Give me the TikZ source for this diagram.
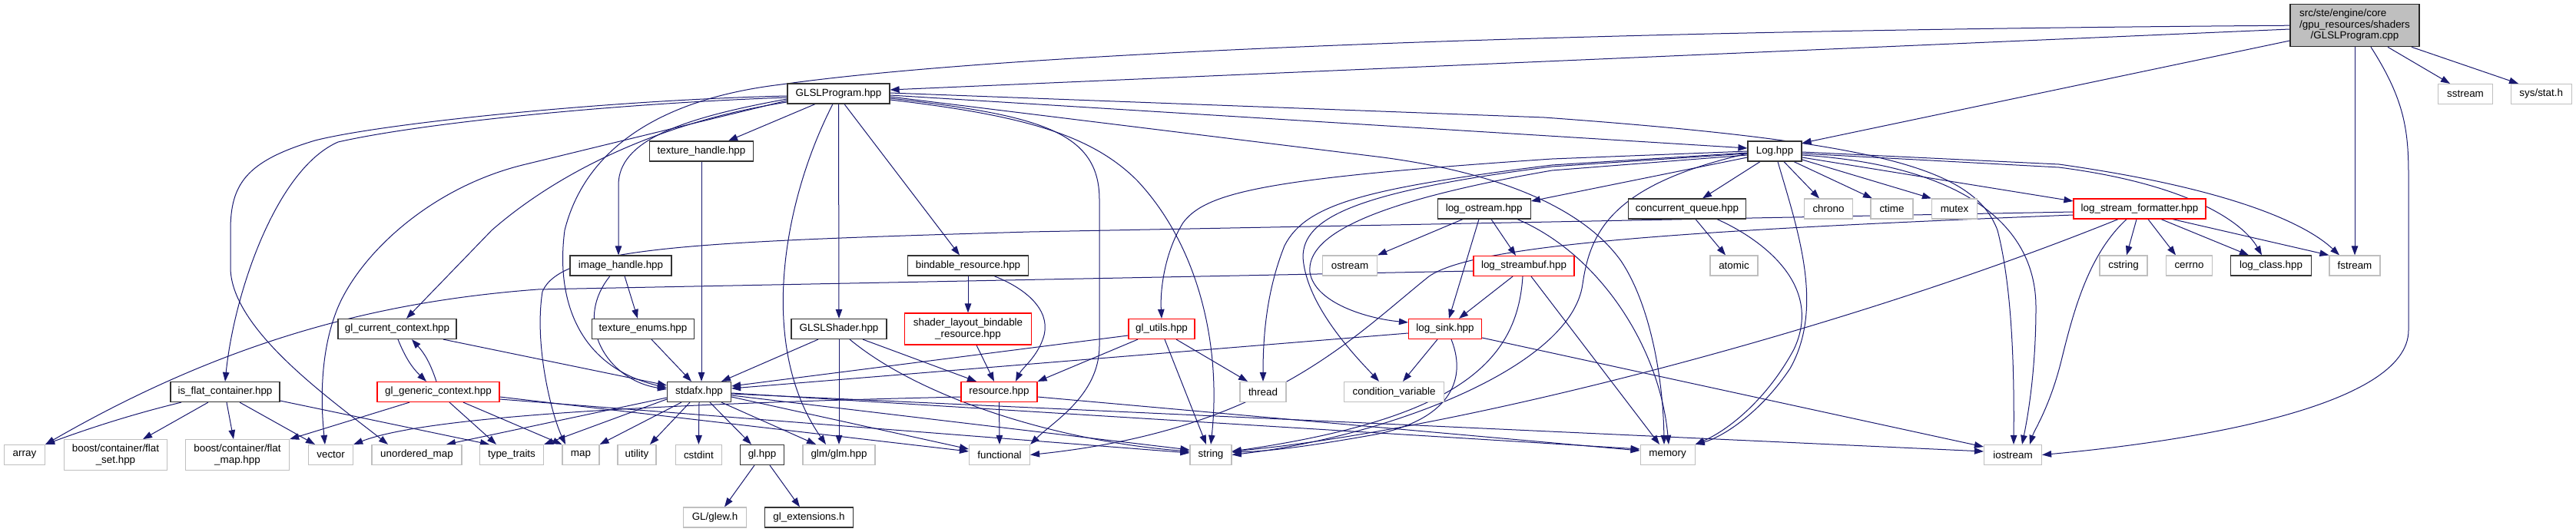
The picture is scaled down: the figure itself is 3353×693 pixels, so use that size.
\documentclass[tikz,border=0pt]{standalone}
\usepackage{fontspec}
\setmainfont{Liberation Sans}
\usetikzlibrary{arrows.meta,backgrounds}
\definecolor{edgec}{HTML}{191970}
\definecolor{leafc}{HTML}{BFBFBF}
\definecolor{rootf}{HTML}{BFBFBF}
\tikzset{
  base/.style={draw, line width=1.2pt, fill=white, inner sep=0pt, minimum height=26pt,
    font=\fontsize{13.4}{14.5}\selectfont, text=black, align=center},
  blk/.style={base, draw=black!80},
  trunc/.style={base, draw=red},
  leaf/.style={base, draw=leafc},
  rootbox/.style={base, draw=black!85, fill=rootf},
  dep/.style={draw=edgec, line width=1pt, -{Triangle[length=12pt,width=8.5pt]}},
}
\begin{document}
\begin{tikzpicture}[x=1pt,y=-1pt]
\useasboundingbox (0,0) rectangle (3353,693);
% ---------------- nodes ----------------
\node[rootbox, minimum width=168pt, minimum height=55pt] (root) at (3065,33.2)
  {\begin{tabular}{@{}l@{}}src/ste/engine/core\\/gpu\_resources/shaders\\\multicolumn{1}{@{}c@{}}{/GLSLProgram.cpp}\end{tabular}};
\node[leaf, minimum width=71pt] (sstream) at (3209,122.5) {sstream};
\node[leaf, minimum width=79pt] (sysstat) at (3307.7,122.5) {sys/stat.h};
\node[blk, minimum width=133pt] (glslp) at (1091.5,122) {GLSLProgram.hpp};
\node[blk, minimum width=135pt] (texh) at (913,197) {texture\_handle.hpp};
\node[blk, minimum width=132pt] (imgh) at (808,346) {image\_handle.hpp};
\node[blk, minimum width=157pt] (bindr) at (1260,346) {bindable\_resource.hpp};
\node[blk, minimum width=70pt] (Log) at (2310,197) {Log.hpp};
\node[blk, minimum width=153pt] (cq) at (2196,272) {concurrent\_queue.hpp};
\node[leaf, minimum width=63pt] (chrono) at (2380,272) {chrono};
\node[leaf, minimum width=55pt] (ctime) at (2462.5,272) {ctime};
\node[leaf, minimum width=59pt] (mutex) at (2544,272) {mutex};
\node[leaf, minimum width=62pt] (atomic) at (2257,346) {atomic};
\node[blk, minimum width=121pt] (logost) at (1931.7,272) {log\_ostream.hpp};
\node[leaf, minimum width=71pt] (ostream) at (1757,346) {ostream};
\node[trunc, minimum width=131pt] (lsbuf) at (1983.5,346.5) {log\_streambuf.hpp};
\node[trunc, minimum width=172pt] (lsf) at (2785,272) {log\_stream\_formatter.hpp};
\node[leaf, minimum width=62pt] (cstring) at (2764,346) {cstring};
\node[leaf, minimum width=60pt] (cerrno) at (2849.5,346) {cerrno};
\node[blk, minimum width=105pt] (logclass) at (2956,346) {log\_class.hpp};
\node[leaf, minimum width=66pt] (fstream) at (3065,346) {fstream};
\node[blk, minimum width=133pt] (texe) at (837,428.5) {texture\_enums.hpp};
\node[blk, minimum width=124pt] (glsls) at (1092,428.5) {GLSLShader.hpp};
\node[trunc, minimum width=165pt, minimum height=41pt] (slbr) at (1260,428.5) {shader\_layout\_bindable\\\_resource.hpp};
\node[blk, minimum width=154pt] (glcur) at (517,428.5) {gl\_current\_context.hpp};
\node[trunc, minimum width=86pt] (glutils) at (1512,428.5) {gl\_utils.hpp};
\node[trunc, minimum width=95pt] (logsink) at (1881,428.5) {log\_sink.hpp};
\node[blk, minimum width=142pt] (isflat) at (293,510.5) {is\_flat\_container.hpp};
\node[trunc, minimum width=159pt] (glgen) at (570.5,510.5) {gl\_generic\_context.hpp};
\node[blk, minimum width=83pt] (stdafx) at (910,510.5) {stdafx.hpp};
\node[trunc, minimum width=99pt] (resource) at (1300.5,510.5) {resource.hpp};
\node[leaf, minimum width=60pt] (thread) at (1644,510.5) {thread};
\node[leaf, minimum width=130pt] (condvar) at (1814.6,510.5) {condition\_variable};
\node[leaf, minimum width=53pt] (array) at (32,592.5) {array};
\node[leaf, minimum width=134pt, minimum height=40pt] (flatset) at (150.5,592.7) {boost/container/flat\\\_set.hpp};
\node[leaf, minimum width=135pt, minimum height=40pt] (flatmap) at (309,592.7) {boost/container/flat\\\_map.hpp};
\node[leaf, minimum width=58pt] (vector) at (430.6,592.5) {vector};
\node[leaf, minimum width=117pt] (uomap) at (542.5,592.5) {unordered\_map};
\node[leaf, minimum width=83pt] (ttraits) at (666,592.5) {type\_traits};
\node[leaf, minimum width=48pt] (map) at (756,592.5) {map};
\node[leaf, minimum width=50pt] (utility) at (829,592.5) {utility};
\node[leaf, minimum width=60pt] (cstdint) at (909.4,592.5) {cstdint};
\node[blk, minimum width=57pt] (glhpp) at (992,592.5) {gl.hpp};
\node[leaf, minimum width=94pt] (glm) at (1092,592.5) {glm/glm.hpp};
\node[leaf, minimum width=79pt] (functional) at (1301,592.5) {functional};
\node[leaf, minimum width=54pt] (string) at (1576,592.5) {string};
\node[leaf, minimum width=71pt] (memory) at (2170.6,592.5) {memory};
\node[leaf, minimum width=75pt] (iostream) at (2620,592.5) {iostream};
\node[leaf, minimum width=82pt] (glew) at (930.6,674) {GL/glew.h};
\node[blk, minimum width=115pt] (glext) at (1053,674) {gl\_extensions.h};
% ---------------- edges ----------------
\begin{pgfonlayer}{background}
\fill[white] (0,0) rectangle (3353,693);
% root
\draw[dep] (root.west |- 0,38) -- (glslp.east |- 0,117);
\draw[dep] (root.west) .. controls (2000,40) and (1300,70) .. (1017,110) .. controls (850,130) and (760,200) .. (735,300) .. controls (722,400) and (760,480) .. (stdafx.west |- 0,505);
\draw[dep] (root.west |- 0,53) -- ([yshift=-3pt]Log.north east);
\draw[dep] (root.south) -- (fstream.north);
\draw[dep] (root.south -| 3086,0) .. controls (3130,130) and (3135,170) .. (3135,230) -- (3135,430) .. controls (3135,530) and (2850,575) .. (iostream.east);
\draw[dep] (root.south -| 3108,0) -- (sstream.north -| 3189,0);
\draw[dep] (root.south -| 3139,0) -- (sysstat.north -| 3278,0);
% GLSLProgram.hpp
\draw[dep] (glslp.south -| 1061,0) -- (texh.north -| 948,0);
\draw[dep] (glslp.west |- 0,129) .. controls (880,155) and (806,185) .. (805,240) -- (imgh.north -| 805,0);
\draw[dep] (glslp.south) -- (glsls.north);
\draw[dep] (glslp.south -| 1084,0) .. controls (1020,260) and (985,450) .. (glm.north -| 1075,0);
\draw[dep] (glslp.south -| 1099,0) -- (bindr.north -| 1249,0);
\draw[dep] (glslp.west |- 0,127) .. controls (800,135) and (550,160) .. (440,185) .. controls (360,220) and (305,380) .. (isflat.north);
\draw[dep] (glslp.west |- 0,125) .. controls (800,130) and (500,160) .. (410,183) .. controls (320,210) and (300,240) .. (300,300) -- (300,350) .. controls (302,430) and (430,520) .. (uomap.north west -| 505,0);
\draw[dep] (glslp.west |- 0,131) -- (680,215) .. controls (560,245) and (470,330) .. (440,400) .. controls (415,460) and (418,530) .. (vector.north -| 423,0);
\draw[dep] (glslp.west |- 0,133) .. controls (850,160) and (720,230) .. (640,300) -- (glcur.north -| 529,0);
\draw[dep] (glslp.east |- 0,124) -- (Log.west |- 0,193);
\draw[dep] (glslp.east |- 0,121) -- (2010,153) .. controls (2450,185) and (2570,220) .. (2600,300) .. controls (2618,370) and (2622,470) .. (iostream.north -| 2621,0);
\draw[dep] (glslp.east |- 0,126) -- (1800,205) .. controls (1950,225) and (2060,270) .. (2110,340) .. controls (2150,400) and (2165,500) .. (memory.north -| 2166,0);
\draw[dep] (glslp.east |- 0,128) .. controls (1350,150) and (1431,170) .. (1431,260) -- (1431,450) .. controls (1431,515) and (1370,550) .. (functional.north east);
\draw[dep] (glslp.east |- 0,130) .. controls (1330,150) and (1420,175) .. (1480,235) .. controls (1560,320) and (1590,450) .. (string.north -| 1576,0);
% texture / image handle
\draw[dep] (texh.south) -- (stdafx.north -| 913,0);
\draw[dep] (imgh.south -| 813,0) -- (texe.north -| 830,0);
\draw[dep] (imgh.south -| 794,0) .. controls (745,420) and (790,495) .. (stdafx.west |- 0,507);
\draw[dep] (texe.south -| 848,0) -- (stdafx.north -| 900,0);
% GLSLShader
\draw[dep] (glsls.south -| 1065,0) -- (stdafx.north -| 939,0);
\draw[dep] (glsls.south) -- (glm.north);
\draw[dep] (glsls.south -| 1123,0) -- (resource.north -| 1271,0);
\draw[dep] (glsls.south -| 1106,0) .. controls (1200,520) and (1380,575) .. (string.west |- 0,588);
% bindable / resource
\draw[dep] (bindr.south) -- (slbr.north);
\draw[dep] (bindr.south -| 1294,0) .. controls (1345,380) and (1368,410) .. (1358,440) .. controls (1350,465) and (1330,480) .. (resource.north -| 1322,0);
\draw[dep] (slbr.south -| 1271,0) -- (resource.north -| 1294,0);
\draw[dep] (resource.south) -- (functional.north);
\draw[dep] (resource.east |- 0,517) -- (memory.west |- 0,587);
\draw[dep] (resource.west |- 0,517) .. controls (900,525) and (560,540) .. (vector.north east);
% gl_utils
\draw[dep] (glutils.west |- 0,437) -- (stdafx.east |- 0,503);
\draw[dep] (glutils.south -| 1481,0) -- (resource.north east);
\draw[dep] (glutils.south -| 1531,0) -- (thread.north -| 1624,0);
\draw[dep] (glutils.south -| 1516,0) -- (string.north -| 1570,0);
% log_sink
\draw[dep] (logsink.west |- 0,434) -- (stdafx.east |- 0,506);
\draw[dep] (logsink.south -| 1871,0) -- (condvar.north -| 1826,0);
\draw[dep] (logsink.south -| 1889,0) .. controls (1912,500) and (1880,548) .. (1790,566) .. controls (1700,582) and (1650,588) .. (string.east |- 0,589);
\draw[dep] (logsink.east |- 0,440) -- (iostream.west |- 0,582);
% log_streambuf
\draw[dep] (lsbuf.south -| 1969,0) -- (logsink.north -| 1899,0);
\draw[dep] (lsbuf.south -| 1982,0) .. controls (1975,470) and (1900,545) .. (string.east |- 0,588);
\draw[dep] (lsbuf.south -| 1993,0) -- (memory.north -| 2160,0);
\draw[dep] (lsbuf.west |- 0,353) -- (700,377) .. controls (500,392) and (300,440) .. (array.north east);
% log_ostream
\draw[dep] (logost.south -| 1904,0) -- (ostream.north east);
\draw[dep] (logost.south -| 1941,0) -- (lsbuf.north -| 1973,0);
\draw[dep] (logost.south -| 1925,0) -- (logsink.north -| 1886,0);
\draw[dep] (logost.south -| 1975,0) .. controls (2080,330) and (2160,450) .. (memory.north -| 2172,0);
% Log.hpp
\draw[dep] (Log.south -| 2291,0) -- (cq.north -| 2216,0);
\draw[dep] (Log.south -| 2322,0) -- (chrono.north -| 2368,0);
\draw[dep] (Log.south -| 2335,0) -- (ctime.north -| 2437,0);
\draw[dep] (Log.east |- 0,208) -- (mutex.north west);
\draw[dep] (Log.west |- 0,205) -- (logost.east |- 0,262);
\draw[dep] (Log.east |- 0,205) -- (lsf.west |- 0,262);
\draw[dep] (Log.east |- 0,200) -- (2680,218) .. controls (2850,240) and (2920,290) .. (logclass.north -| 2944,0);
\draw[dep] (Log.east |- 0,198) -- (2680,214) .. controls (2900,245) and (3000,290) .. (fstream.north -| 3045,0);
\draw[dep] (Log.east |- 0,202) .. controls (2550,215) and (2650,290) .. (2650,400) .. controls (2650,480) and (2640,540) .. (iostream.north -| 2632,0);
\draw[dep] (Log.south -| 2314,0) .. controls (2340,300) and (2375,400) .. (2330,480) .. controls (2290,540) and (2240,570) .. (memory.north east);
\draw[dep] (Log.west |- 0,200) .. controls (2100,240) and (2070,300) .. (2060,370) .. controls (2045,480) and (1800,570) .. (string.east);
\draw[dep] (Log.west |- 0,197) -- (2020,207) .. controls (1650,232) and (1570,250) .. (1540,290) .. controls (1515,330) and (1510,380) .. (glutils.north);
\draw[dep] (Log.west |- 0,199) -- (2020,215) .. controls (1780,245) and (1700,265) .. (1672,320) .. controls (1648,380) and (1644,440) .. (thread.north);
\draw[dep] (Log.west |- 0,200) -- (2020,217) .. controls (1760,250) and (1696,285) .. (1696,335) .. controls (1700,400) and (1770,470) .. (condvar.north -| 1795,0);
\draw[dep] (Log.west |- 0,202) -- (2020,222) .. controls (1790,262) and (1700,305) .. (1705,355) .. controls (1712,395) and (1780,415) .. (logsink.west |- 0,420);
% concurrent_queue
\draw[dep] (cq.south -| 2235,0) .. controls (2290,310) and (2375,370) .. (2335,455) .. controls (2300,520) and (2250,560) .. (memory.north east);
\draw[dep] (cq.south -| 2207,0) -- (atomic.north -| 2246,0);
% log_stream_formatter
\draw[dep] (lsf.south -| 2781,0) -- (cstring.north -| 2768,0);
\draw[dep] (lsf.south -| 2796,0) -- (cerrno.north -| 2832,0);
\draw[dep] (lsf.south -| 2813,0) -- (logclass.north -| 2927,0);
\draw[dep] (lsf.south -| 2828,0) -- (fstream.north west);
\draw[dep] (lsf.south -| 2768,0) .. controls (2720,330) and (2700,400) .. (2683,470) .. controls (2668,530) and (2648,560) .. (iostream.north -| 2642,0);
\draw[dep] (lsf.south -| 2757,0) .. controls (2400,430) and (1900,560) .. (string.east |- 0,588);
\draw[dep] (lsf.west |- 0,280) .. controls (2200,300) and (1920,318) .. (1860,360) .. controls (1760,440) and (1650,560) .. (functional.east);
\draw[dep] (lsf.west |- 0,276) -- (1340,302) .. controls (900,315) and (730,322) .. (706,380) .. controls (695,450) and (718,540) .. (map.north -| 736,0);
% gl contexts
\draw[dep] (glcur.south -| 518,0) to[bend right=12] (glgen.north -| 555,0);
\draw[dep] (glgen.north -| 568,0) to[bend right=12] (glcur.south -| 536,0);
\draw[dep] (glcur.south -| 577,0) -- (stdafx.west |- 0,502);
\draw[dep] (glgen.south -| 533,0) -- (flatmap.north east);
\draw[dep] (glgen.south -| 585,0) -- (ttraits.north -| 646,0);
\draw[dep] (glgen.south -| 603,0) -- (map.north west);
\draw[dep] (glgen.east |- 0,517) -- (functional.west |- 0,588);
\draw[dep] (glgen.east |- 0,520) -- (string.west |- 0,590);
% is_flat_container
\draw[dep] (isflat.south -| 236,0) .. controls (170,540) and (110,560) .. (array.north east);
\draw[dep] (isflat.south -| 271,0) -- (flatset.north -| 186,0);
\draw[dep] (isflat.south -| 295,0) -- (flatmap.north -| 304,0);
\draw[dep] (isflat.south -| 312,0) -- (vector.north -| 410,0);
\draw[dep] (isflat.east |- 0,522) -- (ttraits.north -| 637,0);
% stdafx
\draw[dep] (stdafx.west |- 0,520) -- (ttraits.north east);
\draw[dep] (stdafx.south -| 887,0) -- (map.north east);
\draw[dep] (stdafx.south -| 898,0) -- (utility.north -| 846,0);
\draw[dep] (stdafx.south) -- (cstdint.north);
\draw[dep] (stdafx.south -| 924,0) -- (glhpp.north -| 978,0);
\draw[dep] (stdafx.south -| 939,0) -- (glm.north -| 1062,0);
\draw[dep] (stdafx.east |- 0,517) -- (functional.west |- 0,585);
\draw[dep] (stdafx.east |- 0,515) -- (string.west |- 0,586);
\draw[dep] (stdafx.east |- 0,512) -- (memory.west |- 0,585);
\draw[dep] (stdafx.east |- 0,513) -- (iostream.west |- 0,588);
\draw[dep] (stdafx.west |- 0,518) -- (uomap.north -| 581,0);
% gl.hpp
\draw[dep] (glhpp.south -| 982,0) -- (glew.north -| 943,0);
\draw[dep] (glhpp.south -| 1002,0) -- (glext.north -| 1041,0);
\end{pgfonlayer}
\end{tikzpicture}
\end{document}
